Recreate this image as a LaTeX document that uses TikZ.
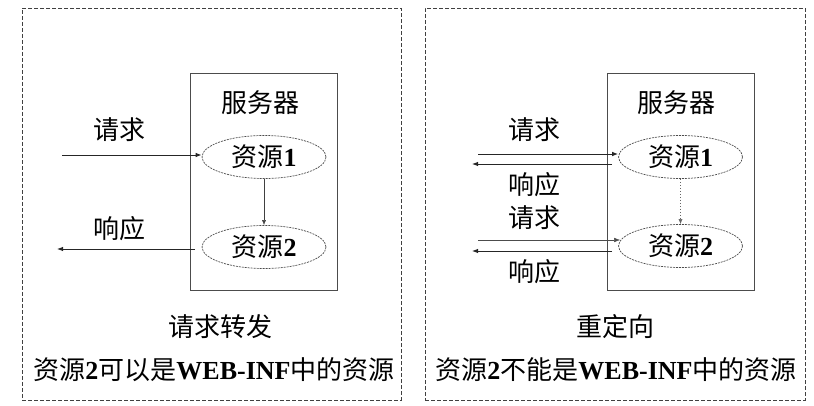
\documentclass[tikz,border=0pt]{standalone}
\usepackage{fontspec}
\setmainfont{Liberation Serif}
\newfontfamily\cjk{Noto Sans CJK SC}
\usetikzlibrary{arrows.meta,shapes.geometric}
\newcommand\lb[1]{{\rmfamily\bfseries #1}}
\tikzset{
  outer/.style={draw=black!75, dash pattern=on 4pt off 2pt, line width=0.8pt, minimum height=392pt, inner sep=0pt},
  server/.style={draw=black!70, line width=0.8pt, minimum width=147pt, minimum height=217pt, inner sep=0pt},
  res/.style={ellipse, draw=black!70, dash pattern=on 2pt off 1pt, line width=0.7pt, minimum width=124pt, minimum height=43pt, inner sep=0pt, font=\cjk\fontsize{26}{29}\selectfont},
  lbl/.style={font=\cjk\fontsize{26}{29}\selectfont, inner sep=0pt},
  arr/.style={-{Latex[length=6pt,width=4.5pt]}, line width=0.9pt, draw=black!85},
  thinarr/.style={-{Latex[length=6pt,width=4.5pt]}, line width=0.5pt, draw=black!70},
  dotarr/.style={-{Latex[length=5pt,width=4pt]}, line width=0.5pt, draw=black!60, dash pattern=on 1.5pt off 1.5pt},
  downarr/.style={-{Latex[length=5pt,width=4pt]}, line width=0.5pt, draw=black!75}
}
\begin{document}
\begin{tikzpicture}[x=1pt,y=-1pt]
\useasboundingbox (0,0) rectangle (814,406);
% outer panels
\node[outer, minimum width=379pt] (lpanel) at (211.5,204) {};
\node[outer, minimum width=380pt] (rpanel) at (615,204) {};
% ---------- left: request forwarding ----------
\node[server] (lsrv) at (263.5,181.5) {};
\node[lbl] (lsrvt) at (260,103) {服务器};
\node[res] (lr1) at (264,157) {资源\lb{1}};
\node[res] (lr2) at (264,247) {资源\lb{2}};
\node[lbl] (lreqt) at (119,130) {请求};
\node[lbl] (lrest) at (119,229) {响应};
\coordinate (lreqs) at (62,155);
\coordinate (lrese) at (57,249);
\draw[arr] (lreqs) -- (lreqs -| lr1.west);
\draw[arr] ([xshift=-7pt]lr2.west |- lrese) -- (lrese);
\draw[downarr] (lr1.south) -- (lr2.north);
\node[lbl] (ltitle) at (220,327) {请求转发};
\node[lbl] (lnote) at (214,370) {资源\lb{2}可以是\lb{WEB-INF}中的资源};
% ---------- right: redirect ----------
\node[server] (rsrv) at (680.5,181.5) {};
\node[lbl] (rsrvt) at (676,103) {服务器};
\node[res] (rr1) at (680.5,157) {资源\lb{1}};
\node[res] (rr2) at (680.5,246) {资源\lb{2}};
\node[lbl] (rreq1t) at (534,130) {请求};
\node[lbl] (rres1t) at (534,185) {响应};
\node[lbl] (rreq2t) at (534,218) {请求};
\node[lbl] (rres2t) at (534,272) {响应};
\coordinate (rreq1s) at (478,154);
\coordinate (rres1e) at (472,164);
\coordinate (rreq2s) at (478,240);
\coordinate (rres2e) at (472,251);
\draw[arr] (rreq1s) -- (rreq1s -| rr1.west);
\draw[arr] ([xshift=-6pt]rr1.west |- rres1e) -- (rres1e);
\draw[thinarr] (rreq2s) -- ([xshift=2pt]rreq2s -| rr2.west);
\draw[arr] ([xshift=-6pt]rr2.west |- rres2e) -- (rres2e);
\draw[dotarr] (rr1.south) -- (rr2.north);
\node[lbl] (rtitle) at (615,327) {重定向};
\node[lbl] (rnote) at (616,370) {资源\lb{2}不能是\lb{WEB-INF}中的资源};
\end{tikzpicture}
\end{document}
